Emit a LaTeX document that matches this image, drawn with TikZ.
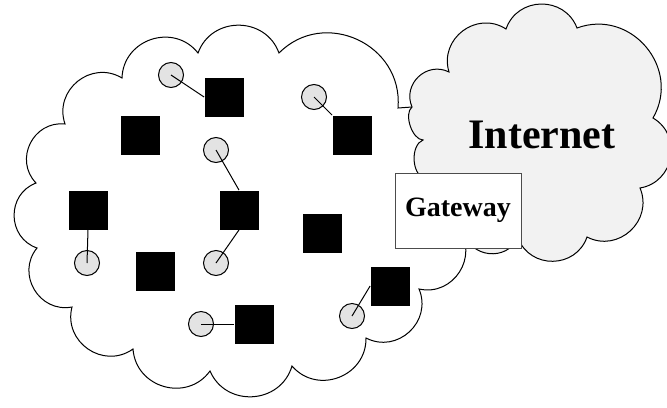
\documentclass[tikz,border=0pt]{standalone}
\usepackage{fontspec}
\setmainfont{Liberation Serif}
\usepackage{tikz}

\begin{document}
\begin{tikzpicture}[x=0.5pt,y=-0.5pt,
	bump/.style={bend left=70,looseness=1.25},
	cloudline/.style={line width=0.5pt},
	router/.style={fill=black,minimum size=19.5pt,inner sep=0pt},
	host/.style={circle,draw,line width=0.5pt,fill=black!11,minimum size=12.5pt,inner sep=0pt},
	link/.style={line width=0.5pt}]
	\useasboundingbox (0,0) rectangle (667,407);
	\clip (0,0) rectangle (667,407);

	% local network
	\draw[cloudline] (458,228) to[bump] (419,289) to[bump] (366,338) to[bump] (292,366)
		to[bump] (210,371) to[bump] (133,349) to[bump] (72,307) to[bump] (37,248)
		to[bump] (36,183) to[bump] (65,124) to[bump] (122,78) to[bump] (198,53)
		to[bump] (279,53) to[bump] (398,108) -- (412,107);

	% internet
	\draw[cloudline,fill=black!5] (412,107) to[bump] (449,72) to[bump] (506,29)
		to[bump] (577,28) to[bump] (653,118) to[bump] (640,188) to[bump] (587,237)
		to[bump] (518,238) to[bump] (464,232) to[bump] (424,178) to[bump,looseness=0.9] (423,140)
		to[bump,looseness=0.8] (412,107) -- cycle;
	\node[anchor=base,font=\bfseries\fontsize{21}{24}\selectfont] (inet) at (542,148) {Internet};

	\node[draw=black!70,fill=white,minimum width=63pt,minimum height=37.5pt,inner sep=0pt,
		font=\bfseries\fontsize{14}{16}\selectfont] (gw) at (458,210.5) {Gateway};

	\node[router] (r1) at (224,97) {};
	\node[router] (r2) at (140,135) {};
	\node[router] (r3) at (352,135) {};
	\node[router] (r4) at (88,210) {};
	\node[router] (r5) at (239,210) {};
	\node[router] (r6) at (322,233) {};
	\node[router] (r7) at (155,271) {};
	\node[router] (r8) at (390,286) {};
	\node[router] (r9) at (254,324) {};

	\node[host] (h1) at (171,75) {};
	\node[host] (h2) at (314,97) {};
	\node[host] (h3) at (216,150) {};
	\node[host] (h4) at (87,263) {};
	\node[host] (h5) at (216,263) {};
	\node[host] (h6) at (201,324) {};
	\node[host] (h7) at (352,316) {};

	\draw[link] (h1.center) -- (r1.west);
	\draw[link] (h2.center) -- (r3.north west);
	\draw[link] (h3.center) -- (r5.north);
	\draw[link] (r5.south) -- (h5.center);
	\draw[link] (r4.south) -- (h4.center);
	\draw[link] (h6.center) -- (r9.west);
	\draw[link] (h7.center) -- (r8.west);
\end{tikzpicture}
\end{document}
